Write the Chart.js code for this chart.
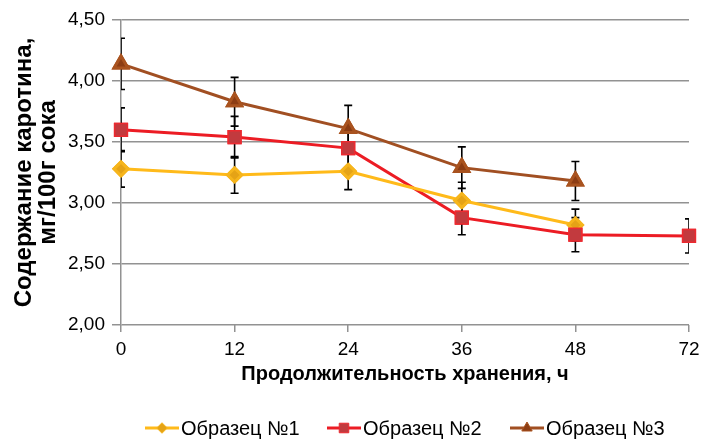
<!DOCTYPE html>
<html>
<head>
<meta charset="utf-8">
<script src="https://cdn.jsdelivr.net/npm/chart.js@4"></script>
<style>
    html, body { margin: 0; padding: 0; background: #fff; }
    #wrap { width: 707px; height: 441px; }
</style>
</head>
<body>
<div id="wrap"><canvas id="chart" width="707" height="441"></canvas></div>
<script>
// Chart data
const hours = ['0', '12', '24', '36', '48', '72'];
const sample1 = [3.28, 3.23, 3.26, 3.02, 2.82, null];
const sample2 = [3.60, 3.54, 3.45, 2.88, 2.74, 2.73];
const sample3 = [4.14, 3.83, 3.61, 3.29, 3.18, null];
const err1 = [0.15, 0.15, 0.15, 0.15, 0.13, null];
const err2 = [0.18, 0.17, 0.17, 0.14, 0.14, 0.14];
const err3 = [0.21, 0.20, 0.19, 0.17, 0.16, null];
const seriesNames = ['Образец №1', 'Образец №2', 'Образец №3'];
const yTicks = [2.0, 2.5, 3.0, 3.5, 4.0, 4.5];

const FONT = "'Liberation Sans', Arial, sans-serif";

// Error bars, markers are redrawn over them
const errorBars = {
    id: 'errorBars',
    afterDatasetsDraw(chart) {
        const { ctx, chartArea, scales: { x, y } } = chart;
        ctx.save();
        ctx.beginPath();
        ctx.rect(chartArea.left, chartArea.top - 30, chartArea.width, chartArea.height + 30);
        ctx.clip();
        ctx.strokeStyle = '#000';
        ctx.lineWidth = 1.6;
        chart.data.datasets.forEach(ds => {
            ds.data.forEach((v, i) => {
                const e = ds.errors[i];
                if (v == null || e == null) return;
                const px = x.getPixelForValue(i);
                const top = y.getPixelForValue(v + e);
                const bot = y.getPixelForValue(v - e);
                ctx.beginPath();
                ctx.moveTo(px, top); ctx.lineTo(px, bot);
                ctx.moveTo(px - 4, top); ctx.lineTo(px + 4, top);
                ctx.moveTo(px - 4, bot); ctx.lineTo(px + 4, bot);
                ctx.stroke();
            });
        });
        ctx.restore();
        chart.data.datasets.forEach((ds, i) => {
            const meta = chart.getDatasetMeta(i);
            meta.data.forEach(pt => { if (!pt.skip) pt.draw(ctx, chartArea); });
        });
    }
};

// Legend: line + marker + label
const lineLegend = {
    id: 'lineLegend',
    afterDraw(chart) {
        const ctx = chart.ctx;
        const yPos = 428;
        const starts = [145, 327, 510];
        ctx.save();
        ctx.font = '20px ' + FONT;
        ctx.textBaseline = 'middle';
        chart.data.datasets.forEach((ds, i) => {
            const x0 = starts[i];
            ctx.strokeStyle = ds.borderColor;
            ctx.lineWidth = 3;
            ctx.beginPath();
            ctx.moveTo(x0, yPos); ctx.lineTo(x0 + 34, yPos);
            ctx.stroke();
            ctx.fillStyle = ds.pointBackgroundColor;
            ctx.strokeStyle = ds.pointBorderColor;
            ctx.lineWidth = 1;
            Chart.helpers.drawPoint(ctx, {
                pointStyle: ds.pointStyle,
                radius: ds.pointRadius * 0.75,
                rotation: 0,
                borderWidth: 1
            }, x0 + 17, yPos);
            ctx.fillStyle = '#000';
            ctx.fillText(ds.label, x0 + 36, yPos + 1);
        });
        ctx.restore();
    }
};

new Chart(document.getElementById('chart'), {
    type: 'line',
    data: {
        labels: hours,
        datasets: [
            {
                label: seriesNames[0],
                data: sample1,
                errors: err1,
                borderColor: '#FFBA1A',
                borderWidth: 3,
                pointStyle: 'rectRot',
                pointRadius: 7,
                pointBackgroundColor: '#E5A316',
                pointBorderColor: '#F6B51C'
            },
            {
                label: seriesNames[1],
                data: sample2,
                errors: err2,
                borderColor: '#EC1C24',
                borderWidth: 3,
                pointStyle: 'rect',
                pointRadius: 9,
                pointBackgroundColor: '#C23A3E',
                pointBorderColor: '#EC2A30',
                pointBorderWidth: 1.5
            },
            {
                label: seriesNames[2],
                data: sample3,
                errors: err3,
                borderColor: '#A14F22',
                borderWidth: 3,
                pointStyle: 'triangle',
                pointRadius: 8,
                pointBackgroundColor: '#8C3D14',
                pointBorderColor: '#A9531F'
            }
        ]
    },
    options: {
        responsive: false,
        animation: false,
        layout: { padding: { top: 20, right: 18, bottom: 55, left: 4 } },
        plugins: {
            legend: { display: false },
            tooltip: { enabled: false }
        },
        scales: {
            x: {
                type: 'category',
                offset: false,
                afterFit(scale) { scale.height = 61; },
                grid: { drawOnChartArea: false, drawTicks: true, tickLength: 7, color: '#929292', lineWidth: 1.5 },
                border: { display: false },
                ticks: { color: '#000', font: { family: FONT, size: 19 }, maxRotation: 0, padding: 6 },
                title: {
                    display: true,
                    text: 'Продолжительность хранения, ч',
                    color: '#000',
                    font: { family: FONT, size: 20, weight: 'bold' },
                    padding: { top: 0, bottom: 0 }
                }
            },
            y: {
                min: 2.0,
                max: 4.5,
                afterFit(scale) { scale.width = 117; },
                afterBuildTicks(scale) {
                    scale.ticks = yTicks.map(v => ({ value: v }));
                },
                grid: { color: '#929292', lineWidth: 1.5, tickLength: 9 },
                border: { color: '#929292', width: 1.5 },
                ticks: {
                    color: '#000',
                    font: { family: FONT, size: 19 },
                    padding: 7,
                    callback: v => v.toFixed(2).replace('.', ',')
                },
                title: {
                    display: true,
                    text: ['Содержание каротина,', 'мг/100г сока'],
                    color: '#000',
                    font: { family: FONT, size: 24, weight: 'bold', lineHeight: 1.0 },
                    padding: { top: 8, bottom: 2 }
                }
            }
        }
    },
    plugins: [errorBars, lineLegend]
});
</script>
</body>
</html>
